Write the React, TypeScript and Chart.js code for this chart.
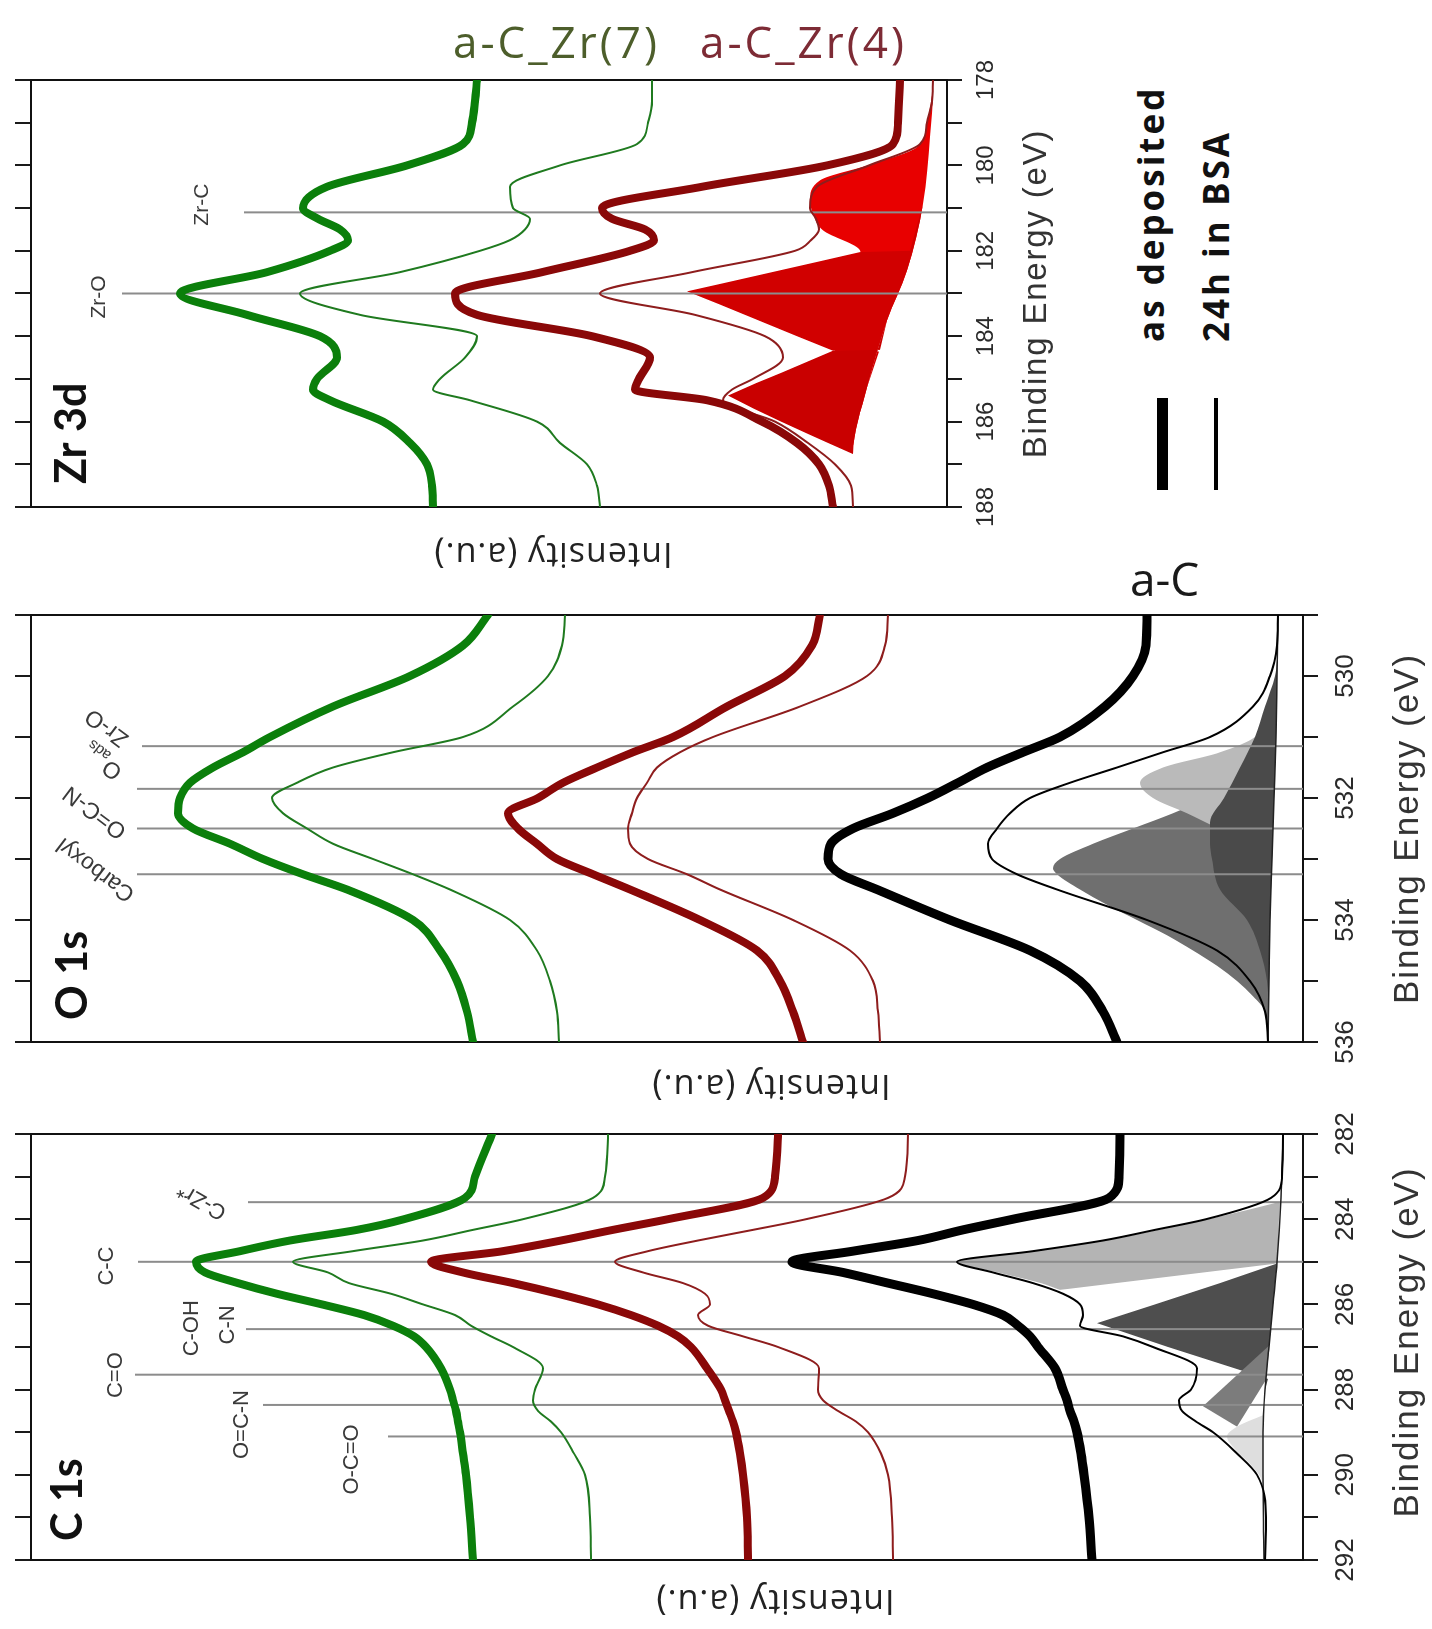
import React, { useEffect, useRef } from 'react';
import { Chart, registerables } from 'chart.js';

Chart.register(...registerables);

// ================= C 1s =================
const C1S_E = [282, 283, 283.5, 284, 284.25, 284.5, 284.75, 285, 285.25, 285.5, 285.75, 286, 286.25, 286.5, 286.75, 287, 287.5, 288, 288.25, 288.5, 288.75, 289, 289.5, 290, 291, 292];
const C1S_ZR7_DEP = [811, 828, 838, 899, 946, 1013, 1063, 1107, 1098, 1065, 1026, 981, 939, 910, 889, 877, 862, 853, 850, 847, 845, 843, 840, 837, 833, 830];
const C1S_ZR7_BSA = [695, 698, 710, 780, 830, 880, 950, 1010, 975, 954, 912, 880, 848, 832, 812, 790, 760, 768, 770, 765, 752, 742, 729, 718, 713, 712];
const C1S_ZR4_DEP = [525, 528, 540, 635, 690, 742, 800, 872, 840, 790, 745, 705, 672, 645, 625, 612, 596, 582, 578, 574, 570, 567, 563, 560, 556, 555];
const C1S_ZR4_BSA = [395, 398, 415, 497, 550, 605, 655, 688, 660, 620, 598, 593, 605, 595, 560, 525, 484, 485, 480, 465, 447, 435, 422, 415, 411, 410];
const C1S_AC_DEP = [183, 184, 194, 290, 340, 385, 450, 511, 460, 415, 370, 330, 300, 285, 273, 265, 248, 240, 236, 233, 229, 226, 222, 219, 214, 211];
const C1S_AC_BSA = [20, 21, 32, 97, 148, 200, 270, 346, 310, 270, 240, 223, 220, 223, 180, 150, 106, 112, 124, 121, 107, 90, 66, 46, 37, 38];

// fitted components (C 1s)
const C1S_BG_E = [282, 283.5, 285, 286, 287, 288, 289, 290, 292];
const C1S_BG = [20, 22, 26, 30, 34, 38, 40, 40, 39];
const C1S_CC_E = [283.59, 283.71, 284, 284.25, 284.5, 284.75, 285, 285.25, 285.5, 285.66];
const C1S_CC = [23, 43, 95, 145, 198, 268, 345, 305, 262, 243];
const C1S_CC_LOW_E = [283.59, 284, 284.5, 285.04, 285.66];
const C1S_CC_LOW = [23, 24, 25, 26, 243];
const C1S_CN_E = [285.04, 285.5, 286, 286.44, 287, 287.54, 287.75];
const C1S_CN = [26, 83, 148, 206, 135, 63, 35];
const C1S_OCN_E = [286.97, 288.39, 288.87];
const C1S_OCN = [34, 100, 66];
const C1S_OCN_LOW_E = [286.97, 287.77, 288.87];
const C1S_OCN_LOW = [34, 37, 66];
const C1S_OCO_E = [288.6, 288.87, 289.1, 289.4, 289.7, 290, 290.2];
const C1S_OCO = [40, 66, 76, 68, 55, 44, 40];

const C1S_LINE_E = [283.6, 285.0, 286.58, 287.65, 288.36, 289.1];
const C1S_LINE_TOP = [1055, 1165, 1057, 1168, 1040, 915];
const C1S_LABELS = [
  { t: 'C-C', e: 285.1, y: 1196, rot: 0 },
  { t: 'C-OH', e: 286.56, y: 1111, rot: 0 },
  { t: 'C-N', e: 286.48, y: 1075, rot: 0 },
  { t: 'C=O', e: 287.66, y: 1187, rot: 0 },
  { t: 'O=C-N', e: 288.82, y: 1061, rot: 0 },
  { t: 'O-C=O', e: 289.64, y: 951, rot: 0 },
  { t: 'C-Zr*', e: 283.57, y: 1101, rot: -60 },
];

// ================= O 1s =================
const O1S_E = [529, 529.5, 530, 530.5, 531, 531.25, 531.5, 531.75, 532, 532.25, 532.5, 532.75, 533, 533.25, 533.5, 534, 534.5, 535, 535.5, 536];
const O1S_ZR7_DEP = [815, 840, 893, 970, 1033, 1060, 1090, 1113, 1123, 1125, 1110, 1073, 1040, 1000, 956, 890, 863, 846, 836, 830];
const O1S_ZR7_BSA = [738, 741, 755, 790, 840, 910, 970, 1006, 1031, 1020, 996, 970, 930, 890, 853, 793, 766, 753, 746, 744];
const O1S_ZR4_DEP = [483, 491, 518, 576, 630, 670, 706, 740, 765, 795, 785, 766, 746, 710, 673, 603, 546, 523, 510, 500];
const O1S_ZR4_BSA = [415, 418, 436, 503, 590, 623, 646, 656, 666, 671, 675, 673, 655, 616, 583, 510, 453, 430, 425, 423];
const O1S_AC_DEP = [156, 157, 170, 198, 243, 280, 316, 345, 375, 410, 450, 472, 475, 462, 426, 353, 273, 223, 200, 186];
const O1S_AC_BSA = [25, 26, 33, 50, 93, 140, 186, 233, 273, 293, 306, 315, 311, 286, 246, 156, 86, 53, 38, 35];

const O1S_BG_E = [529, 530, 531, 532, 533, 534, 535, 536];
const O1S_BG = [25, 26, 27, 29, 31, 33, 34, 35];
const O1S_CARB_E = [531.5, 531.75, 532, 532.25, 532.5, 532.75, 533, 533.15, 533.25, 533.5, 533.75, 534, 534.25, 534.5, 534.75, 535, 535.25, 535.5, 536];
const O1S_CARB = [30, 60, 95, 130, 170, 210, 243, 250, 246, 223, 196, 166, 136, 110, 86, 66, 50, 38, 35];
const O1S_ADS_E = [530.25, 530.5, 530.75, 531, 531.25, 531.5, 531.75, 532, 532.25, 532.5, 532.75, 533];
const O1S_ADS = [27, 33, 40, 48, 83, 140, 163, 150, 116, 85, 55, 35];
const O1S_ZRO_E = [529.75, 530, 530.5, 531, 531.5, 532, 532.4, 532.75, 533, 533.5, 534, 534.5, 535, 535.5];
const O1S_ZRO = [26, 28, 38, 48, 63, 79, 93, 93, 91, 83, 56, 43, 36, 34];

const O1S_LINE_E = [531.15, 531.85, 532.5, 533.25];
const O1S_LINE_TOP = [1161, 1166, 1166, 1166];
const O1S_LABELS = [
  { t: 'Zr-O', e: 530.84, y: 1196, rot: -53 },
  { t: 'O', sub: 'ads', e: 531.41, y: 1200, rot: -53 },
  { t: 'O=C-N', e: 532.23, y: 1208, rot: -53 },
  { t: 'Carboxyl', e: 533.17, y: 1207, rot: -53 },
];

// ================= Zr 3d =================
const ZR_E = [178, 178.5, 179, 179.5, 180, 180.5, 181, 181.25, 181.5, 181.75, 182, 182.5, 183, 183.5, 184, 184.5, 185, 185.25, 185.5, 186, 186.5, 187, 187.5, 188];
const ZR_ZR7_DEP = [470, 472, 475, 484, 540, 620, 644, 629, 607, 599, 617, 680, 767, 700, 627, 610, 630, 634, 617, 564, 537, 520, 515, 514];
const ZR_ZR7_BSA = [295, 295, 299, 310, 387, 437, 434, 417, 422, 437, 467, 547, 647, 587, 470, 482, 507, 514, 477, 410, 387, 360, 350, 347];
const ZR_ZR4_DEP = [47, 48, 49, 54, 120, 245, 345, 335, 302, 293, 317, 405, 492, 470, 355, 297, 308, 312, 240, 185, 150, 128, 118, 114];
const ZR_ZR4_BSA = [14, 15, 20, 27, 78, 130, 137, 131, 128, 136, 152, 255, 347, 252, 182, 164, 194, 215, 224, 172, 139, 112, 96, 94];

const ZR_BG_E = [178, 178.23, 179.33, 180.9, 182.46, 183.63, 185.2, 186.76, 188];
const ZR_BG = [14, 14, 17, 24, 40, 60, 80, 94, 94];
const ZR_C_E = [178.23, 179, 179.57, 179.96, 180.35, 180.82, 181.13, 181.52, 181.99, 182.5, 183, 183.5, 184, 184.34, 185, 185.5, 186, 186.5, 186.76];
const ZR_C = [14, 20, 30, 74, 127, 137, 134, 124, 87, 84, 92, 100, 108, 112, 104, 98, 96, 95, 94];
const ZR_O52_E = [182.0, 182.03, 182.25, 182.5, 182.75, 182.95, 183.25, 183.5, 183.75, 184, 184.34, 184.36];
const ZR_O52 = [37, 87, 128, 175, 222, 260, 228, 202, 176, 150, 114, 68];
const ZR_O32_E = [184.32, 184.34, 184.6, 184.85, 185.1, 185.39, 185.7, 186, 186.3, 186.5, 186.76];
const ZR_O32 = [67, 114, 140, 165, 191, 219, 193, 166, 138, 119, 94];

const ZR_LINE_E = [181.1, 183.0];
const ZR_LINE_TOP = [703, 825];
const ZR_LABELS = [
  { t: 'Zr-O', e: 183.08, y: 848, rot: 0 },
  { t: 'Zr-C', e: 180.92, y: 745, rot: 0 },
];

// ================= styling =================
const GREEN = '#0b7f0b';
const GREEN_THIN = '#1f7a1f';
const RED = '#8a0808';
const RED_THIN = '#8e1d1d';
const BLACK = '#000000';
const LINE_GRAY = '#8c8c8c';
const THICK = 8;
const THICK_BLACK = 9;
const THIN = 2;

type Lbl = { t: string; e: number; y: number; rot: number; sub?: string };

const pts = (e: number[], v: number[]) => e.map((x, i) => ({ x, y: v[i] }));

const curve = (e: number[], v: number[], color: string, width: number, order: number) => ({
  data: pts(e, v),
  borderColor: color,
  backgroundColor: color,
  borderWidth: width,
  pointRadius: 0,
  fill: false,
  cubicInterpolationMode: 'monotone',
  borderJoinStyle: 'round',
  borderCapStyle: 'round',
  order,
});

const hidden = (e: number[], v: number[], straight: boolean) => ({
  data: pts(e, v),
  borderColor: 'rgba(0,0,0,0)',
  borderWidth: 0,
  pointRadius: 0,
  fill: false,
  tension: straight ? 0 : 0.4,
  cubicInterpolationMode: straight ? 'default' : 'monotone',
  order: 20,
});

const area = (e: number[], v: number[], color: string, target: number, order: number, straight = false) => ({
  data: pts(e, v),
  borderColor: 'rgba(0,0,0,0)',
  backgroundColor: color,
  borderWidth: 0,
  pointRadius: 0,
  fill: { target, above: color, below: color },
  tension: straight ? 0 : 0.4,
  cubicInterpolationMode: straight ? 'default' : 'monotone',
  order,
});

const vline = (e: number, top: number) => ({
  data: [{ x: e, y: top }, { x: e, y: 0 }],
  borderColor: LINE_GRAY,
  borderWidth: 2,
  pointRadius: 0,
  fill: false,
  order: 5,
});

function stackCurves(e: number[], z7d: number[], z7b: number[], z4d: number[], z4b: number[], acd?: number[], acb?: number[]) {
  const out: any[] = [
    curve(e, z7b, GREEN_THIN, THIN, 1),
    curve(e, z4b, RED_THIN, THIN, 1),
    curve(e, z7d, GREEN, THICK, 0),
    curve(e, z4d, RED, THICK, 0),
  ];
  if (acd && acb) {
    out.push(curve(e, acb, BLACK, THIN, 1));
    out.push(curve(e, acd, BLACK, THICK_BLACK, 0));
  }
  return out;
}

function c1sDatasets() {
  const ds: any[] = [];
  ds.push(curve(C1S_BG_E, C1S_BG, '#222222', 1.5, 2)); // 0
  ds.push(hidden(C1S_CC_LOW_E, C1S_CC_LOW, true)); // 1
  ds.push(hidden(C1S_OCN_LOW_E, C1S_OCN_LOW, true)); // 2
  ds.push(area(C1S_OCO_E, C1S_OCO, '#dedede', 0, 12));
  ds.push(area(C1S_CC_E, C1S_CC, '#b4b4b4', 1, 11));
  ds.push(area(C1S_CN_E, C1S_CN, '#4e4e4e', 0, 10, true));
  ds.push(area(C1S_OCN_E, C1S_OCN, '#7c7c7c', 2, 9, true));
  C1S_LINE_E.forEach((e, i) => ds.push(vline(e, C1S_LINE_TOP[i])));
  ds.push(...stackCurves(C1S_E, C1S_ZR7_DEP, C1S_ZR7_BSA, C1S_ZR4_DEP, C1S_ZR4_BSA, C1S_AC_DEP, C1S_AC_BSA));
  return ds;
}

function o1sDatasets() {
  const ds: any[] = [];
  ds.push(curve(O1S_BG_E, O1S_BG, '#222222', 1.5, 2));
  ds.push(area(O1S_CARB_E, O1S_CARB, '#6f6f6f', 0, 11));
  ds.push(area(O1S_ADS_E, O1S_ADS, '#bababa', 0, 10));
  ds.push(area(O1S_ZRO_E, O1S_ZRO, '#4a4a4a', 0, 9));
  O1S_LINE_E.forEach((e, i) => ds.push(vline(e, O1S_LINE_TOP[i])));
  ds.push(...stackCurves(O1S_E, O1S_ZR7_DEP, O1S_ZR7_BSA, O1S_ZR4_DEP, O1S_ZR4_BSA, O1S_AC_DEP, O1S_AC_BSA));
  return ds;
}

function zrDatasets() {
  const ds: any[] = [];
  ds.push(hidden(ZR_BG_E, ZR_BG, false)); // 0
  ds.push(area(ZR_C_E, ZR_C, '#e80000', 0, 11));
  ds.push(area(ZR_O52_E, ZR_O52, '#d10000', 0, 10, true));
  ds.push(area(ZR_O32_E, ZR_O32, '#c90000', 0, 9, true));
  ZR_LINE_E.forEach((e, i) => ds.push(vline(e, ZR_LINE_TOP[i])));
  ds.push(...stackCurves(ZR_E, ZR_ZR7_DEP, ZR_ZR7_BSA, ZR_ZR4_DEP, ZR_ZR4_BSA));
  return ds;
}

type Spec = {
  key: string; L: number; T: number; w: number; h: number;
  leftW: number; rightW: number; topH: number; bottomH: number;
  xMin: number; xMax: number; yMax: number;
  tickFont: number; tickPad: number;
  title: string; titleDx: number; titleDy: number;
  xTitleDy: number; xTitleDx: number; xTitleFont: number; xTitleSpacing: number;
  yTitleDx: number; yTitleDy: number;
  labels: Lbl[]; lblFont: number;
  datasets: () => any[];
};

const SPECS: Spec[] = [
  {
    key: 'zr', L: 0, T: 575, w: 535, h: 1060, leftW: 68, rightW: 40, topH: 31, bottomH: 113,
    xMin: 178, xMax: 188, yMax: 916, tickFont: 24, tickPad: 10,
    title: 'Zr 3d', titleDx: 23, titleDy: 55, xTitleDy: 90, xTitleDx: 0, xTitleFont: 33, xTitleSpacing: 1.8,
    yTitleDx: 46, yTitleDy: 64, labels: ZR_LABELS, lblFont: 21, datasets: zrDatasets,
  },
  {
    key: 'o1s', L: 0, T: 1105, w: 525, h: 1432, leftW: 63, rightW: 35, topH: 31, bottomH: 129,
    xMin: 529, xMax: 536, yMax: 1272, tickFont: 26, tickPad: 12,
    title: 'O 1s', titleDx: 22, titleDy: 56, xTitleDy: 105, xTitleDx: 0, xTitleFont: 35, xTitleSpacing: 2,
    yTitleDx: 43, yTitleDy: 104, labels: O1S_LABELS, lblFont: 23, datasets: o1sDatasets,
  },
  {
    key: 'c1s', L: 0, T: 1629, w: 544, h: 1432, leftW: 69, rightW: 49, topH: 31, bottomH: 129,
    xMin: 282, xMax: 292, yMax: 1272, tickFont: 26, tickPad: 12,
    title: 'C 1s', titleDx: 19, titleDy: 51, xTitleDy: 105, xTitleDx: 5, xTitleFont: 35, xTitleSpacing: 2,
    yTitleDx: 40, yTitleDy: 108, labels: C1S_LABELS, lblFont: 22, datasets: c1sDatasets,
  },
];

function textPlugin(s: Spec) {
  return {
    id: 'panelText_' + s.key,
    afterDraw(chart: any) {
      const { ctx, chartArea: a, scales } = chart;
      const xs = scales.x;
      const ys = scales.y;
      ctx.save();
      ctx.fillStyle = '#111111';
      ctx.font = 'bold 43px Lato, "Open Sans", sans-serif';
      ctx.textAlign = 'left';
      ctx.textBaseline = 'alphabetic';
      ctx.fillText(s.title, a.left + s.titleDx, a.top + s.titleDy);
      ctx.fillStyle = '#333333';
      ctx.font = `${s.xTitleFont}px "Liberation Sans", Arial, sans-serif`;
      ctx.textAlign = 'center';
      ctx.textBaseline = 'middle';
      (ctx as any).letterSpacing = `${s.xTitleSpacing}px`;
      ctx.fillText('Binding Energy (eV)', (a.left + a.right) / 2 + s.xTitleDx, a.bottom + s.xTitleDy);
      ctx.save();
      ctx.translate(a.left - s.yTitleDx, (a.top + a.bottom) / 2 + s.yTitleDy);
      ctx.rotate(-Math.PI / 2);
      ctx.fillStyle = '#222222';
      ctx.font = '34px "Open Sans", sans-serif';
      (ctx as any).letterSpacing = '1px';
      ctx.fillText('Intensity (a.u.)', 0, 0);
      ctx.restore();
      (ctx as any).letterSpacing = '0px';
      for (const l of s.labels) {
        const px = xs.getPixelForValue(l.e);
        const py = ys.getPixelForValue(l.y);
        ctx.save();
        ctx.translate(px, py);
        ctx.rotate((l.rot * Math.PI) / 180);
        ctx.fillStyle = '#3a3a3a';
        ctx.textBaseline = 'middle';
        const mainFont = `${s.lblFont}px "Liberation Sans", Arial, sans-serif`;
        const subFont = `${Math.round(s.lblFont * 0.65)}px "Liberation Sans", Arial, sans-serif`;
        if (l.sub) {
          ctx.font = mainFont;
          const w1 = ctx.measureText(l.t).width;
          ctx.font = subFont;
          const w2 = ctx.measureText(l.sub).width;
          const x0 = -(w1 + w2) / 2;
          ctx.textAlign = 'left';
          ctx.font = mainFont;
          ctx.fillText(l.t, x0, 0);
          ctx.font = subFont;
          ctx.fillText(l.sub, x0 + w1 + 1, s.lblFont * 0.35);
        } else {
          ctx.font = mainFont;
          ctx.textAlign = 'center';
          ctx.fillText(l.t, 0, 0);
        }
        ctx.restore();
      }
      ctx.restore();
    },
  };
}

function buildConfig(s: Spec): any {
  const xCommon = { type: 'linear', min: s.xMin, max: s.xMax, reverse: true };
  const gridTicks = (len: number) => ({ drawOnChartArea: false, drawTicks: true, tickLength: len, lineWidth: 2, color: '#1a1a1a' });
  const border = { display: true, color: '#111111', width: 2 };
  return {
    type: 'line',
    data: { datasets: s.datasets() },
    options: {
      responsive: false,
      animation: false,
      events: [],
      layout: { padding: 0 },
      plugins: { legend: { display: false }, tooltip: { enabled: false }, filler: { propagate: false } },
      scales: {
        x: {
          ...xCommon,
          position: 'bottom',
          ticks: {
            stepSize: 1, autoSkip: false, maxRotation: 0, minRotation: 0, padding: s.tickPad,
            color: '#2a2a2a',
            font: { family: '"Liberation Sans", Arial, sans-serif', size: s.tickFont },
            callback: (v: any) => (Math.round(Number(v)) % 2 === 0 ? String(Math.round(Number(v))) : ''),
          },
          grid: gridTicks(15),
          border,
          afterFit: (sc: any) => { sc.height = s.bottomH; },
        },
        xt: {
          ...xCommon,
          position: 'top',
          ticks: { stepSize: 1, autoSkip: false, display: false },
          grid: gridTicks(16),
          border,
          afterFit: (sc: any) => { sc.height = s.topH; },
        },
        y: {
          type: 'linear', position: 'left', min: 0, max: s.yMax,
          ticks: { display: false }, grid: { display: false }, border,
          afterFit: (sc: any) => { sc.width = s.leftW; },
        },
        yr: {
          type: 'linear', position: 'right', min: 0, max: s.yMax,
          ticks: { display: false }, grid: { display: false }, border,
          afterFit: (sc: any) => { sc.width = s.rightW; },
        },
      },
    },
    plugins: [textPlugin(s)],
  };
}

function Panel({ s }: { s: Spec }) {
  const ref = useRef<HTMLCanvasElement>(null);
  useEffect(() => {
    const chart = new Chart(ref.current as HTMLCanvasElement, buildConfig(s));
    return () => chart.destroy();
  }, []);
  return (
    <div
      style={{
        position: 'absolute', left: s.L, top: s.T, width: s.w, height: s.h,
        transformOrigin: '0 0', transform: 'rotate(-90deg)',
      }}
    >
      <canvas ref={ref} width={s.w} height={s.h} style={{ width: s.w, height: s.h, display: 'block' }} />
    </div>
  );
}

const SERIES_NAMES = ['a-C_Zr(7)', 'a-C_Zr(4)'];
const SERIES_COLORS = ['#4d5e2b', '#7d2b35'];
const LEGEND_LABELS = ['as deposited', '24h in BSA'];

export default function App() {
  const rotText = (left: number, bottom: number): React.CSSProperties => ({
    position: 'absolute', left, top: bottom, transformOrigin: '0 0', transform: 'rotate(-90deg)',
    font: 'bold 35px "Open Sans", sans-serif', lineHeight: '36px', height: 36, whiteSpace: 'nowrap',
    color: '#111', letterSpacing: '3px',
  });
  const seriesText = (left: number, color: string): React.CSSProperties => ({
    position: 'absolute', left, top: 19, font: '44px "Open Sans", sans-serif', lineHeight: '44px',
    letterSpacing: '3px', color, whiteSpace: 'nowrap',
  });
  return (
    <div style={{ position: 'absolute', left: 0, top: 0, width: 1432, height: 1629, overflow: 'hidden', background: '#ffffff' }}>
      {SPECS.map((s) => <Panel key={s.key} s={s} />)}
      <div style={seriesText(453, SERIES_COLORS[0])}>{SERIES_NAMES[0]}</div>
      <div style={seriesText(700, SERIES_COLORS[1])}>{SERIES_NAMES[1]}</div>
      <div style={{ position: 'absolute', left: 1130, top: 555, font: '46px "Open Sans", sans-serif', lineHeight: '46px', color: '#1a1a1a', whiteSpace: 'nowrap' }}>a-C</div>
      <div style={rotText(1133, 342)}>{LEGEND_LABELS[0]}</div>
      <div style={rotText(1198, 342)}>{LEGEND_LABELS[1]}</div>
      <div style={{ position: 'absolute', left: 1157, top: 398, width: 11, height: 92, background: '#000' }} />
      <div style={{ position: 'absolute', left: 1214, top: 398, width: 4, height: 92, background: '#000' }} />
    </div>
  );
}
